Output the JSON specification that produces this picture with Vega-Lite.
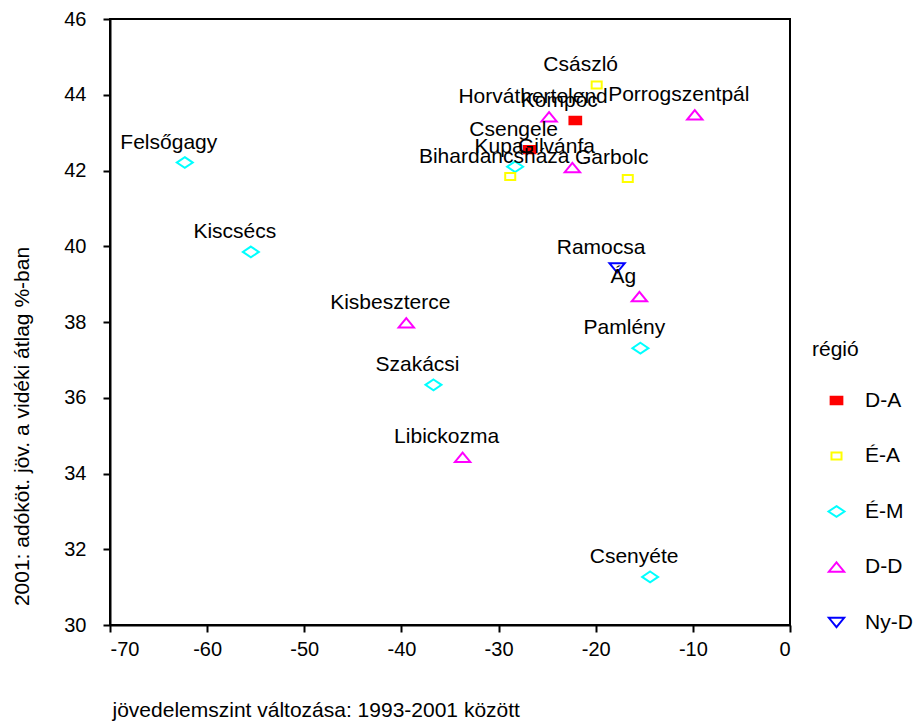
{
  "$schema": "https://vega.github.io/schema/vega-lite/v6.json",
  "autosize": "none",
  "width": 680,
  "height": 606,
  "padding": {"left": 110, "top": 19, "right": 125, "bottom": 97},
  "background": "white",
  "config": {
    "font": "Liberation Sans",
    "view": {"stroke": "black", "strokeWidth": 2},
    "axis": {
      "grid": false,
      "domainColor": "black",
      "domainWidth": 2,
      "tickColor": "black",
      "tickWidth": 2,
      "tickSize": 7,
      "labelFont": "Liberation Sans",
      "labelFontSize": 20,
      "labelColor": "black",
      "titleFont": "Liberation Sans",
      "titleFontSize": 21,
      "titleFontWeight": "normal",
      "titleColor": "black"
    },
    "legend": {
      "titleFont": "Liberation Sans",
      "labelFont": "Liberation Sans",
      "titleFontSize": 21,
      "titleFontWeight": "normal",
      "titleColor": "black",
      "labelFontSize": 21,
      "labelColor": "black"
    }
  },
  "data": {
    "values": [
      {"name": "Császló", "region": "É-A", "x": -19.9, "y": 44.26},
      {"name": "Horváthertelend", "region": "D-D", "x": -24.8, "y": 43.42},
      {"name": "Kompóc", "region": "D-A", "x": -22.1, "y": 43.32},
      {"name": "Porrogszentpál", "region": "D-D", "x": -9.8, "y": 43.47},
      {"name": "Csengele", "region": "D-A", "x": -26.8, "y": 42.55},
      {"name": "Kupa", "region": "É-M", "x": -28.3, "y": 42.1},
      {"name": "Gilvánfa", "region": "D-D", "x": -22.4, "y": 42.08},
      {"name": "Bihardancsháza", "region": "É-A", "x": -28.8, "y": 41.84},
      {"name": "Garbolc", "region": "É-A", "x": -16.7, "y": 41.79},
      {"name": "Felsőgagy", "region": "É-M", "x": -62.3, "y": 42.21},
      {"name": "Kiscsécs", "region": "É-M", "x": -55.5, "y": 39.85},
      {"name": "Kisbeszterce", "region": "D-D", "x": -39.5, "y": 37.98},
      {"name": "Szakácsi", "region": "É-M", "x": -36.7, "y": 36.34},
      {"name": "Libickozma", "region": "D-D", "x": -33.7, "y": 34.43},
      {"name": "Csenyéte", "region": "É-M", "x": -14.4, "y": 31.27},
      {"name": "Ramocsa", "region": "Ny-D", "x": -17.8, "y": 39.43},
      {"name": "Ág", "region": "D-D", "x": -15.5, "y": 38.67},
      {"name": "Pamlény", "region": "É-M", "x": -15.4, "y": 37.31}
    ]
  },
  "encoding": {
    "x": {
      "field": "x", "type": "quantitative",
      "scale": {"domain": [-70, 0], "nice": false, "zero": false},
      "axis": {
        "values": [-70, -60, -50, -40, -30, -20, -10, 0],
        "labelExpr": "replace(datum.label, '−', '-')",
        "labelPadding": 7,
        "title": "jövedelemszint változása: 1993-2001 között",
        "titleAnchor": "start",
        "titleAlign": "left",
        "titleBaseline": "middle",
        "titleX": 2,
        "titleY": 85
      }
    },
    "y": {
      "field": "y", "type": "quantitative",
      "scale": {"domain": [30, 46], "nice": false, "zero": false},
      "axis": {
        "values": [30, 32, 34, 36, 38, 40, 42, 44, 46],
        "labelPadding": 17,
        "title": "2001: adóköt. jöv. a vidéki átlag %-ban",
        "titleAngle": -90,
        "titleAlign": "center",
        "titleBaseline": "middle",
        "titleX": -88,
        "titleY": 407
      }
    }
  },
  "layer": [
    {
      "mark": {"type": "point", "filled": false, "size": 289, "strokeWidth": 2, "opacity": 1},
      "encoding": {
        "color": {
          "field": "region", "type": "nominal", "title": "régió",
          "scale": {"domain": ["D-A", "É-A", "É-M", "D-D", "Ny-D"], "range": ["#ff0000", "#ffff00", "#00ffff", "#ff00ff", "#0000ff"]}
        },
        "fill": {
          "field": "region", "type": "nominal", "title": "régió",
          "scale": {"domain": ["D-A", "É-A", "É-M", "D-D", "Ny-D"], "range": ["#ff0000", "transparent", "transparent", "transparent", "transparent"]}
        },
        "shape": {
          "field": "region", "type": "nominal", "title": "régió",
          "scale": {
            "domain": ["D-A", "É-A", "É-M", "D-D", "Ny-D"],
            "range": [
              "M-0.69,-0.43H0.69V0.43H-0.69Z",
              "M-0.59,-0.41H0.59V0.41H-0.59Z",
              "M0,-0.63L0.94,0L0,0.63L-0.94,0Z",
              "M0,-0.55L0.9,0.55L-0.9,0.55Z",
              "M-0.9,-0.55L0.9,-0.55L0,0.55Z"
            ]
          },
          "legend": {
            "orient": "none",
            "legendX": 702,
            "legendY": 320,
            "symbolSize": 289,
            "symbolStrokeWidth": 2,
            "rowPadding": 33.5,
            "titlePadding": 30,
            "symbolOffset": 14,
            "labelOffset": 18
          }
        }
      }
    },
    {
      "mark": {"type": "text", "font": "Liberation Sans", "fontSize": 21, "color": "black", "dx": -16, "dy": -14, "baseline": "alphabetic", "align": "center"},
      "encoding": {"text": {"field": "name", "type": "nominal"}}
    }
  ]
}
